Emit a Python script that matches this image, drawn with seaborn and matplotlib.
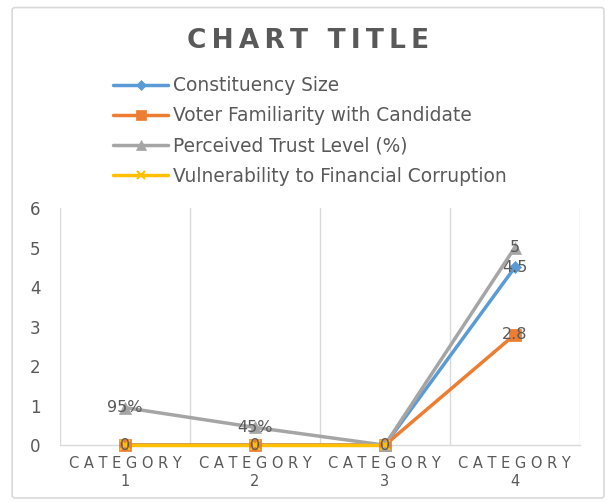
import numpy as np
import pandas as pd
import matplotlib
matplotlib.use('Agg')
import matplotlib.pyplot as plt
import seaborn as sns
from matplotlib.lines import Line2D
from matplotlib.patches import FancyBboxPatch

# Chart data
categories = ['C A T E G O R Y\n1', 'C A T E G O R Y\n2', 'C A T E G O R Y\n3', 'C A T E G O R Y\n4']
constituency_size = [0, 0, 0, 4.5]
voter_familiarity = [0, 0, 0, 2.8]
perceived_trust = [0.95, 0.45, 0, 5]
vulnerability = [0, 0, 0, np.nan]

series_names = ['Constituency Size', 'Voter Familiarity with Candidate',
                'Perceived Trust Level (%)', 'Vulnerability to Financial Corruption']
series_values = [constituency_size, voter_familiarity, perceived_trust, vulnerability]
trust_labels = ['95%', '45%', '0', '5']

colors = ['#5B9BD5', '#ED7D31', '#A5A5A5', '#FFC000']
markers = ['D', 's', '^', 'x']
msizes = [6, 8, 8, 7]

rows = []
for name, vals in zip(series_names, series_values):
    for i, v in enumerate(vals):
        rows.append({'series': name, 'x': i, 'value': v})
df = pd.DataFrame(rows)

sns.set_theme(style='white')
plt.rcParams['font.family'] = ['DejaVu Sans']
text_color = '#595959'

fig = plt.figure(figsize=(6.07, 5.03), dpi=100)
ax = fig.add_axes([0.099, 0.115, 0.856, 0.471])

sns.lineplot(data=df.dropna(), x='x', y='value', hue='series', hue_order=series_names,
             palette=colors, linewidth=2.5, legend=False, ax=ax)
for ln in ax.get_lines():
    ln.set_clip_on(False)
    ln.set_zorder(3)
for name, col, mk, ms in zip(series_names, colors, markers, msizes):
    sub = df[df['series'] == name].dropna()
    ax.plot(sub['x'], sub['value'], linestyle='none', marker=mk, markersize=ms,
            color=col, markeredgecolor=col, markeredgewidth=1.5 if mk == 'x' else 0.5,
            clip_on=False, zorder=4)

# data labels
lab_kw = dict(ha='center', va='center', fontsize=11.5, color=text_color, zorder=5)
for i, v in enumerate(constituency_size):
    if i != 2:
        ax.text(i, v, f'{v:g}', **lab_kw)
ax.text(3, voter_familiarity[3], f'{voter_familiarity[3]:g}', **lab_kw)
for i, (v, lab) in enumerate(zip(perceived_trust, trust_labels)):
    ax.text(i, v, lab, **lab_kw)

ax.set_xlim(-0.5, 3.5)
ax.set_ylim(0, 6)
ax.set_yticks(range(0, 7))
ax.set_xticks(range(4))
ax.set_xticklabels(categories, fontsize=10.5, linespacing=1.2)
ax.set_xticks(np.arange(-0.5, 4, 1), minor=True)
ax.grid(False)
ax.grid(True, which='minor', axis='x', color='#D9D9D9', linewidth=1)
for s in ['top', 'right', 'left']:
    ax.spines[s].set_visible(False)
ax.spines['bottom'].set_color('#D9D9D9')
ax.spines['bottom'].set_linewidth(1)
ax.tick_params(axis='both', which='both', length=0, colors=text_color)
ax.tick_params(axis='y', labelsize=12, pad=14)
ax.tick_params(axis='x', pad=8)
ax.set_xlabel('')
ax.set_ylabel('')

fig.text(0.508, 0.918, '\u2009'.join('CHART TITLE'), ha='center', va='center', fontsize=19,
         fontweight='bold', color=text_color)

handles = [Line2D([0], [0], color=c, marker=m, markersize=ms - 1, linewidth=2.5,
                  markeredgewidth=1.5 if m == 'x' else 0.5)
           for c, m, ms in zip(colors, markers, msizes)]
leg = fig.legend(handles, series_names, loc='upper left', bbox_to_anchor=(0.158, 0.882),
                 frameon=False, fontsize=13.4, handlelength=3.0, handletextpad=0.25,
                 labelspacing=0.6, labelcolor=text_color)

border = FancyBboxPatch((0.02, 0.01), 0.975, 0.975, boxstyle='round,pad=0,rounding_size=0.005',
                        transform=fig.transFigure, facecolor='none', edgecolor='#D9D9D9',
                        linewidth=1.2)
fig.patches.append(border)

fig.savefig('out.png', dpi=100)
